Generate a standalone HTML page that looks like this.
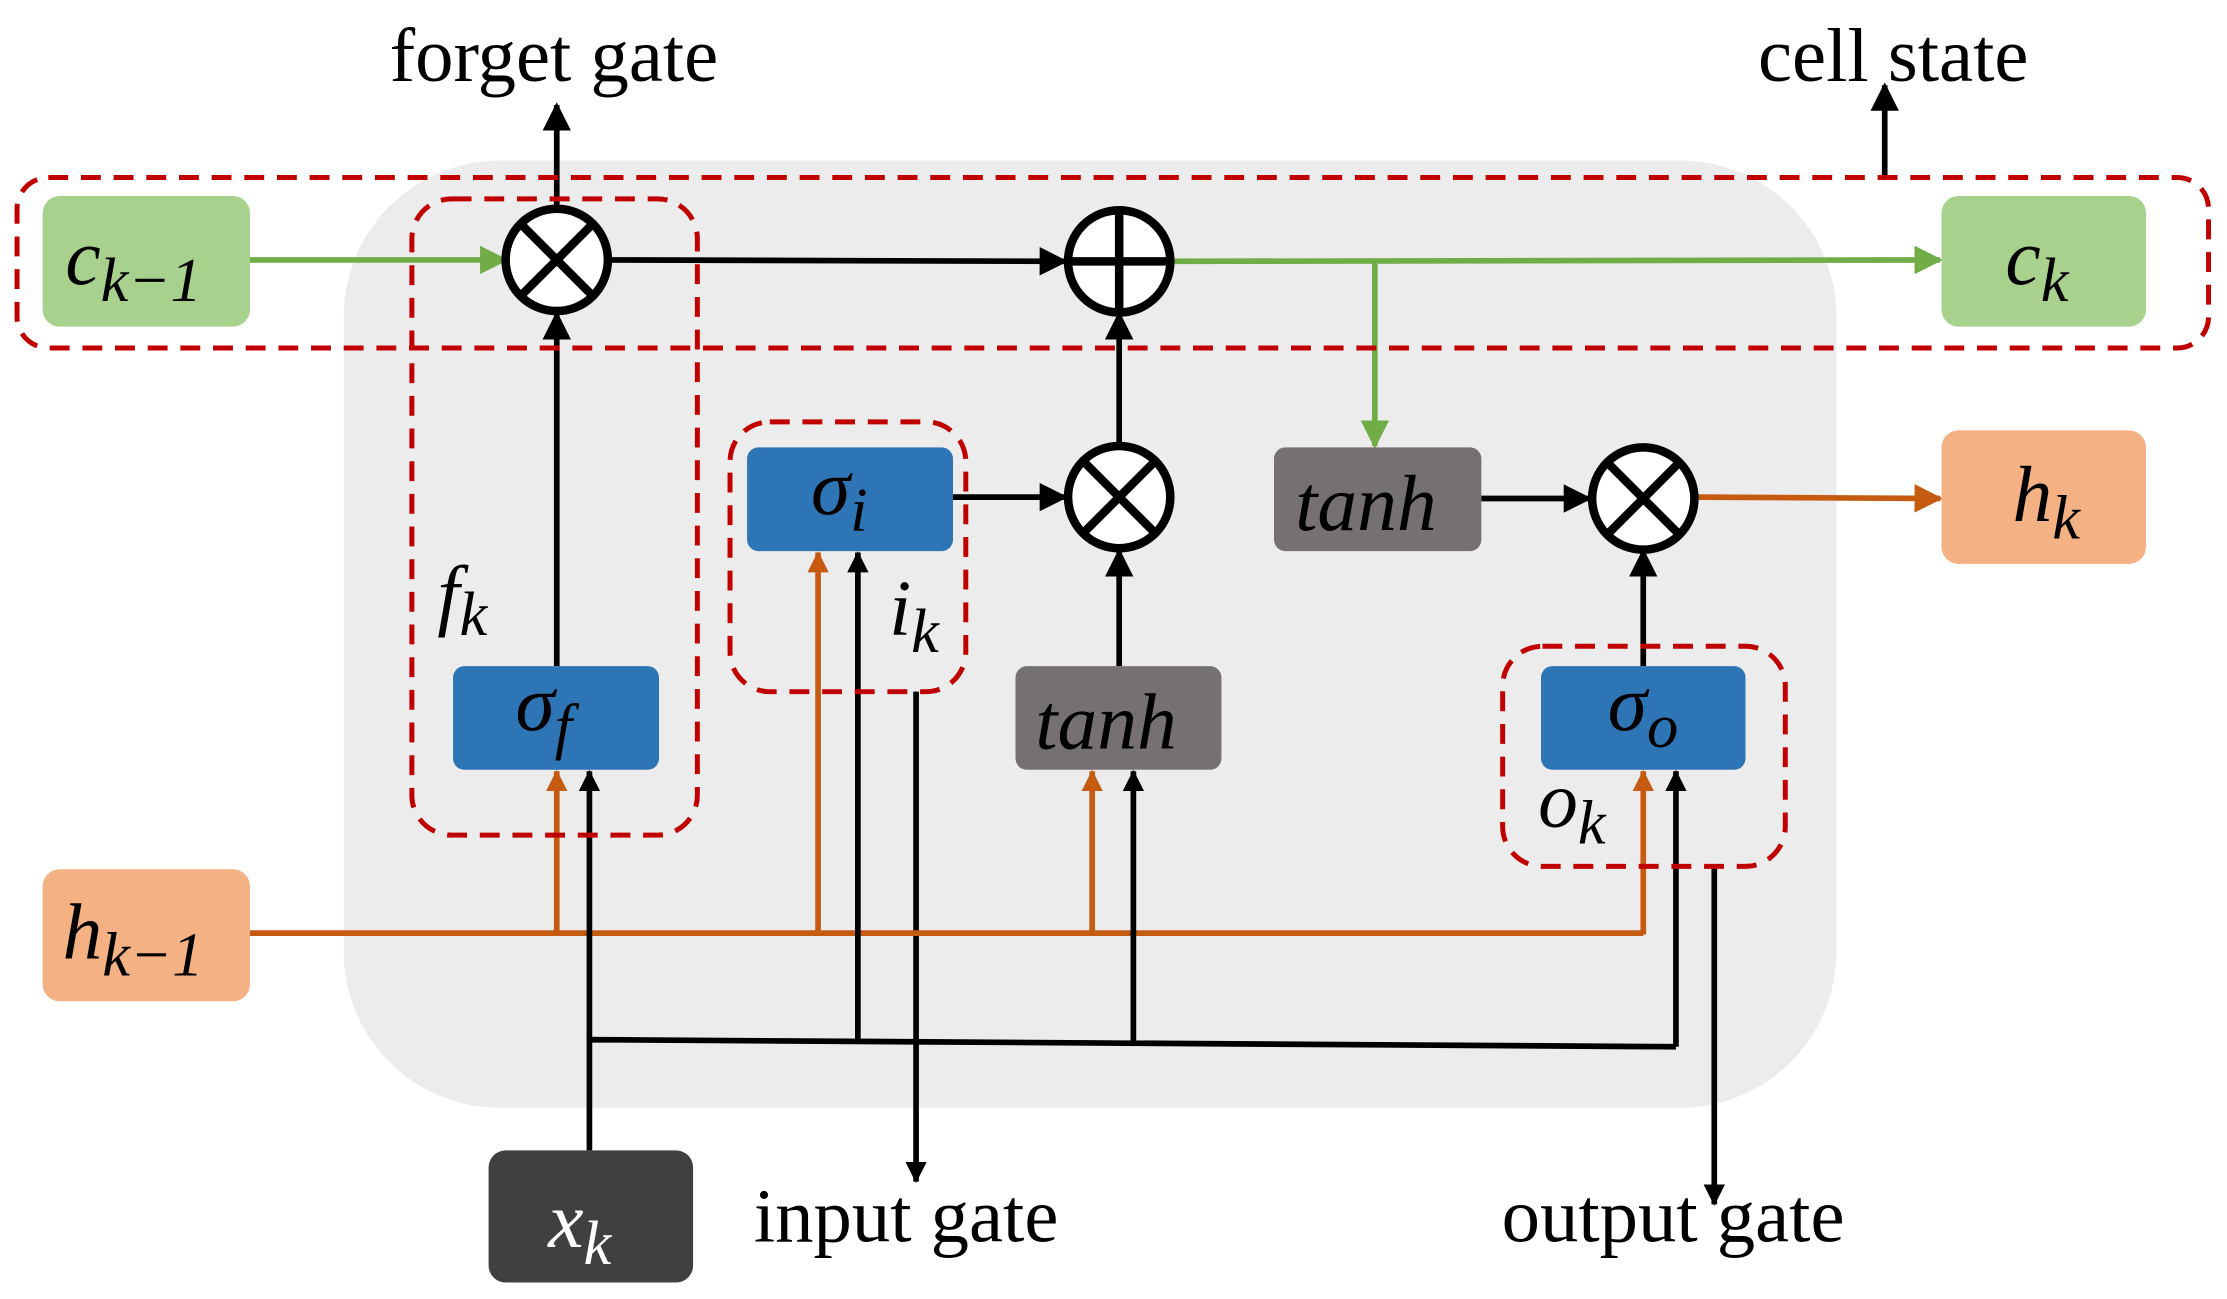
<!DOCTYPE html>
<html><head><meta charset="utf-8"><style>
html,body{margin:0;padding:0;background:#fff}
svg{display:block}
text{font-family:"Liberation Serif",serif}
.m{font-style:italic}
</style></head><body>
<svg width="2227" height="1299" viewBox="0 0 1568 914.6" preserveAspectRatio="none" xmlns="http://www.w3.org/2000/svg">
<defs>
<marker id="ag" markerWidth="20" markerHeight="20" refX="18" refY="10" orient="auto" markerUnits="userSpaceOnUse" viewBox="0 0 20 20"><path d="M0,0 L20,10 L0,20z" fill="#70ad47"/></marker>
<marker id="ao" markerWidth="20" markerHeight="20" refX="18" refY="10" orient="auto" markerUnits="userSpaceOnUse" viewBox="0 0 20 20"><path d="M0,0 L20,10 L0,20z" fill="#c55a11"/></marker>
<marker id="ak" markerWidth="20" markerHeight="20" refX="18" refY="10" orient="auto" markerUnits="userSpaceOnUse" viewBox="0 0 20 20"><path d="M0,0 L20,10 L0,20z" fill="#000"/></marker>
<marker id="aos" markerWidth="15" markerHeight="15" refX="14" refY="7.5" orient="auto" markerUnits="userSpaceOnUse" viewBox="0 0 15 15"><path d="M0,0 L15,7.5 L0,15z" fill="#c55a11"/></marker>
<marker id="aks" markerWidth="15" markerHeight="15" refX="14" refY="7.5" orient="auto" markerUnits="userSpaceOnUse" viewBox="0 0 15 15"><path d="M0,0 L15,7.5 L0,15z" fill="#000"/></marker>
</defs>
<rect x="242" y="113" width="1051" height="667" rx="110" fill="#ececec"/>

<g fill="none" stroke-width="4">
<line x1="176" y1="183" x2="356" y2="183" stroke="#70ad47" marker-end="url(#ag)"/>
<line x1="430" y1="183" x2="750" y2="184" stroke="#000" marker-end="url(#ak)"/>
<line x1="826" y1="184" x2="1366" y2="183" stroke="#70ad47" marker-end="url(#ag)"/>
<line x1="968" y1="184" x2="968" y2="314" stroke="#70ad47" marker-end="url(#ag)"/>
<line x1="392" y1="469" x2="392" y2="221" stroke="#000" marker-end="url(#ak)"/>
<line x1="392" y1="146" x2="392" y2="74" stroke="#000" marker-end="url(#ak)"/>
<line x1="1327" y1="125" x2="1327" y2="60" stroke="#000" marker-end="url(#ak)"/>
<line x1="671" y1="350" x2="750" y2="350" stroke="#000" marker-end="url(#ak)"/>
<line x1="788" y1="313" x2="788" y2="221" stroke="#000" marker-end="url(#ak)"/>
<line x1="788" y1="469" x2="788" y2="388" stroke="#000" marker-end="url(#ak)"/>
<line x1="1043" y1="351" x2="1119" y2="351" stroke="#000" marker-end="url(#ak)"/>
<line x1="1195" y1="350" x2="1366" y2="351" stroke="#c55a11" marker-end="url(#ao)"/>
<line x1="1157" y1="469" x2="1157" y2="388" stroke="#000" marker-end="url(#ak)"/>
<line x1="645" y1="487" x2="645" y2="832" stroke="#000" marker-end="url(#aks)"/>
<line x1="1207" y1="610" x2="1207" y2="848" stroke="#000" marker-end="url(#aks)"/>
<polyline points="176,657 1157,657" stroke="#c55a11"/>
<line x1="392" y1="657" x2="392" y2="543" stroke="#c55a11" marker-end="url(#aos)"/>
<line x1="576" y1="657" x2="576" y2="389" stroke="#c55a11" marker-end="url(#aos)"/>
<line x1="769" y1="657" x2="769" y2="543" stroke="#c55a11" marker-end="url(#aos)"/>
<line x1="1157" y1="658" x2="1157" y2="543" stroke="#c55a11" marker-end="url(#aos)"/>
<polyline points="415,810 415,732 1180,737" stroke="#000"/>
<line x1="415" y1="732" x2="415" y2="543" stroke="#000" marker-end="url(#aks)"/>
<line x1="604" y1="733" x2="604" y2="389" stroke="#000" marker-end="url(#aks)"/>
<line x1="798" y1="734" x2="798" y2="543" stroke="#000" marker-end="url(#aks)"/>
<line x1="1180" y1="737" x2="1180" y2="543" stroke="#000" marker-end="url(#aks)"/>
</g>

<g fill="none" stroke="#c00000" stroke-width="3.5" stroke-dasharray="14,9">
<rect x="12" y="125" width="1543" height="120" rx="22"/>
<rect x="290" y="140" width="201" height="448" rx="28"/>
<rect x="514" y="297" width="166" height="190" rx="28"/>
<rect x="1058" y="455" width="199" height="155" rx="28"/>
</g>

<g stroke="#000" stroke-width="6" fill="#fff">
<circle cx="392" cy="183" r="36"/>
<circle cx="788" cy="184" r="36"/>
<circle cx="788" cy="350" r="36"/>
<circle cx="1157" cy="351" r="36"/>
</g>
<g stroke="#000" stroke-width="6">
<path d="M367,158 L417,208 M417,158 L367,208"/>
<path d="M788,148 V220 M752,184 H824"/>
<path d="M763,325 L813,375 M813,325 L763,375"/>
<path d="M1132,326 L1182,376 M1182,326 L1132,376"/>
</g>

<rect x="30" y="138" width="146" height="92" rx="12" fill="#a9d18e"/>
<rect x="1367" y="138" width="144" height="92" rx="12" fill="#a9d18e"/>
<rect x="30" y="612" width="146" height="93" rx="12" fill="#f4b183"/>
<rect x="1367" y="303" width="144" height="94" rx="12" fill="#f4b183"/>
<rect x="344" y="810" width="144" height="93" rx="12" fill="#404040"/>
<rect x="319" y="469" width="145" height="73" rx="8" fill="#2e75b6"/>
<rect x="526" y="315" width="145" height="73" rx="8" fill="#2e75b6"/>
<rect x="1085" y="469" width="144" height="73" rx="8" fill="#2e75b6"/>
<rect x="897" y="315" width="146" height="73" rx="8" fill="#767171"/>
<rect x="715" y="469" width="145" height="73" rx="8" fill="#767171"/>

<g class="m" font-size="56" fill="#000">
<text x="46" y="200">c<tspan font-size="44" dy="12">k−1</tspan></text>
<text x="1412" y="200">c<tspan font-size="44" dy="12">k</tspan></text>
<text x="44" y="675">h<tspan font-size="44" dy="12">k−1</tspan></text>
<text x="1417" y="367">h<tspan font-size="44" dy="12">k</tspan></text>
<text x="386" y="878" fill="#fff">x<tspan font-size="44" dy="12">k</tspan></text>
<text x="363" y="514">σ<tspan font-size="44" dy="12">f</tspan></text>
<text x="571" y="362">σ<tspan font-size="44" dy="12">i</tspan></text>
<text x="1132" y="514">σ<tspan font-size="44" dy="12">o</tspan></text>
<text x="912" y="373">tanh</text>
<text x="729" y="527">tanh</text>
<text x="308" y="437">f<tspan font-size="44" dy="10">k</tspan></text>
<text x="626" y="447">i<tspan font-size="44" dy="12">k</tspan></text>
<text x="1083" y="582">o<tspan font-size="44" dy="12">k</tspan></text>
</g>
<g font-size="54" fill="#000" text-anchor="middle">
<text x="390" y="57">forget gate</text>
<text x="1333" y="57">cell state</text>
<text x="638" y="874">input gate</text>
<text x="1178" y="874">output gate</text>
</g>
</svg>
</body></html>
